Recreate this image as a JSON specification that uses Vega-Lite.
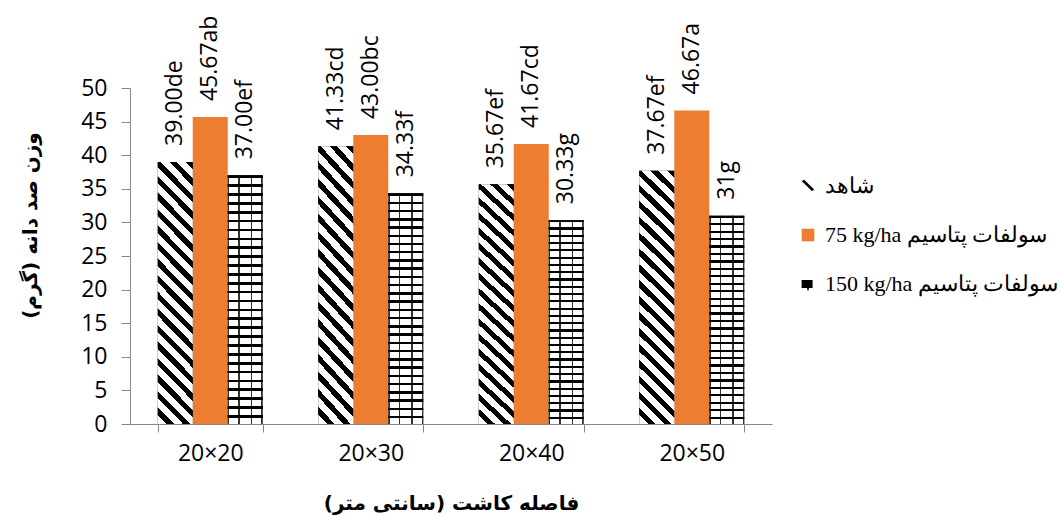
{
  "$schema": "https://vega.github.io/schema/vega-lite/v6.json",
  "width": 642,
  "height": 336,
  "autosize": {"type": "none"},
  "padding": {"left": 130, "top": 88, "right": 288, "bottom": 92},
  "background": "white",
  "config": {"view": {"stroke": null}, "font": "Open Sans"},
  "data": {
    "values": [
      {"spacing": "20×20", "series": "شاهد", "code": "a", "value": 39.0, "label": "39.00de"},
      {"spacing": "20×20", "series": "75 kg/ha سولفات پتاسیم", "code": "b", "value": 45.67, "label": "45.67ab"},
      {"spacing": "20×20", "series": "150 kg/ha سولفات پتاسیم", "code": "c", "value": 37.0, "label": "37.00ef"},
      {"spacing": "20×30", "series": "شاهد", "code": "a", "value": 41.33, "label": "41.33cd"},
      {"spacing": "20×30", "series": "75 kg/ha سولفات پتاسیم", "code": "b", "value": 43.0, "label": "43.00bc"},
      {"spacing": "20×30", "series": "150 kg/ha سولفات پتاسیم", "code": "c", "value": 34.33, "label": "34.33f"},
      {"spacing": "20×40", "series": "شاهد", "code": "a", "value": 35.67, "label": "35.67ef"},
      {"spacing": "20×40", "series": "75 kg/ha سولفات پتاسیم", "code": "b", "value": 41.67, "label": "41.67cd"},
      {"spacing": "20×40", "series": "150 kg/ha سولفات پتاسیم", "code": "c", "value": 30.33, "label": "30.33g"},
      {"spacing": "20×50", "series": "شاهد", "code": "a", "value": 37.67, "label": "37.67ef"},
      {"spacing": "20×50", "series": "75 kg/ha سولفات پتاسیم", "code": "b", "value": 46.67, "label": "46.67a"},
      {"spacing": "20×50", "series": "150 kg/ha سولفات پتاسیم", "code": "c", "value": 31.0, "label": "31g"}
    ]
  },
  "encoding": {
    "x": {
      "field": "spacing",
      "type": "nominal",
      "sort": ["20×20", "20×30", "20×40", "20×50"],
      "scale": {"paddingInner": 0.346, "paddingOuter": 0.173},
      "axis": {
        "title": "فاصله کاشت (سانتی متر)‏",
        "titleFont": "DejaVu Sans",
        "titleFontSize": 20,
        "titleFontWeight": "bold",
        "titleColor": "#000",
        "titleX": 321,
        "titleY": 79,
        "titleAlign": "center",
        "titleBaseline": "middle",
        "labelAngle": 0,
        "labelFont": "Open Sans",
        "labelFontSize": 23,
        "labelColor": "#000",
        "labelPadding": 10,
        "tickBand": "extent",
        "tickSize": 8,
        "tickColor": "#868686",
        "domainColor": "#868686",
        "grid": false
      }
    },
    "xOffset": {
      "field": "series",
      "type": "nominal",
      "scale": {"domain": ["شاهد", "75 kg/ha سولفات پتاسیم", "150 kg/ha سولفات پتاسیم"], "paddingInner": 0, "paddingOuter": 0}
    },
    "y": {
      "field": "value",
      "type": "quantitative",
      "scale": {"domain": [0, 50], "nice": false},
      "axis": {
        "title": "وزن صد دانه (گرم)‏",
        "titleFont": "DejaVu Sans",
        "titleFontSize": 20,
        "titleFontWeight": "bold",
        "titleColor": "#000",
        "titleAngle": 270,
        "titleX": -100,
        "titleY": 137,
        "titleAlign": "center",
        "titleBaseline": "middle",
        "values": [0, 5, 10, 15, 20, 25, 30, 35, 40, 45, 50],
        "labelFont": "Open Sans",
        "labelFontSize": 23,
        "labelColor": "#000",
        "labelPadding": 14,
        "tickSize": 9,
        "tickColor": "#868686",
        "domainColor": "#868686",
        "grid": false
      }
    }
  },
  "layer": [
    {
      "mark": {"type": "bar"},
      "encoding": {
        "color": {
          "field": "series",
          "type": "nominal",
          "scale": {"domain": ["شاهد", "75 kg/ha سولفات پتاسیم", "150 kg/ha سولفات پتاسیم"], "range": ["#000000", "#ED7D31", "#000000"]},
          "legend": {
            "title": null,
            "orient": "none",
            "legendX": 667,
            "legendY": 87,
            "symbolType": "square",
            "symbolSize": 160,
            "symbolStrokeWidth": 0,
            "labelFont": "Liberation Serif",
            "labelFontSize": 22,
            "labelColor": "#000",
            "labelOffset": 6,
            "labelLimit": 400,
            "rowPadding": 27,
            "encode": {
              "symbols": {
                "update": {
                  "shape": [
                    {"test": "datum.index === 0", "value": "M-1,-0.8L-0.6,-1L1,0.6L0.6,0.8Z"},
                    {"test": "datum.index === 2", "value": "M-1,-0.5H0.6V0.5H-1M0,0.5V1"},
                    {"value": "square"}
                  ],
                  "fill": [
                    {"test": "datum.index === 2", "value": "transparent"},
                    {"test": "datum.index === 0", "value": "#000"},
                    {"value": "#ED7D31"}
                  ],
                  "stroke": [
                    {"test": "datum.index === 2", "value": "#000"},
                    {"value": "transparent"}
                  ],
                  "strokeWidth": {"value": 1.6}
                }
              }
            }
          }
        }
      }
    },
    {
      "transform": [{"filter": "datum.code === 'a'"}],
      "mark": {
        "type": "bar",
        "fill": {
          "gradient": "linear",
          "x1": 0, "y1": 1, "x2": 0.1513, "y2": -0.1151,
          "stops": [
            {"offset": 0, "color": "#fff"}, {"offset": 0.0306, "color": "#fff"}, {"offset": 0.0306, "color": "#000"}, {"offset": 0.0556, "color": "#000"},
            {"offset": 0.0556, "color": "#fff"}, {"offset": 0.0861, "color": "#fff"}, {"offset": 0.0861, "color": "#000"}, {"offset": 0.1111, "color": "#000"},
            {"offset": 0.1111, "color": "#fff"}, {"offset": 0.1417, "color": "#fff"}, {"offset": 0.1417, "color": "#000"}, {"offset": 0.1667, "color": "#000"},
            {"offset": 0.1667, "color": "#fff"}, {"offset": 0.1972, "color": "#fff"}, {"offset": 0.1972, "color": "#000"}, {"offset": 0.2222, "color": "#000"},
            {"offset": 0.2222, "color": "#fff"}, {"offset": 0.2528, "color": "#fff"}, {"offset": 0.2528, "color": "#000"}, {"offset": 0.2778, "color": "#000"},
            {"offset": 0.2778, "color": "#fff"}, {"offset": 0.3083, "color": "#fff"}, {"offset": 0.3083, "color": "#000"}, {"offset": 0.3333, "color": "#000"},
            {"offset": 0.3333, "color": "#fff"}, {"offset": 0.3639, "color": "#fff"}, {"offset": 0.3639, "color": "#000"}, {"offset": 0.3889, "color": "#000"},
            {"offset": 0.3889, "color": "#fff"}, {"offset": 0.4194, "color": "#fff"}, {"offset": 0.4194, "color": "#000"}, {"offset": 0.4444, "color": "#000"},
            {"offset": 0.4444, "color": "#fff"}, {"offset": 0.475, "color": "#fff"}, {"offset": 0.475, "color": "#000"}, {"offset": 0.5, "color": "#000"},
            {"offset": 0.5, "color": "#fff"}, {"offset": 0.5306, "color": "#fff"}, {"offset": 0.5306, "color": "#000"}, {"offset": 0.5556, "color": "#000"},
            {"offset": 0.5556, "color": "#fff"}, {"offset": 0.5861, "color": "#fff"}, {"offset": 0.5861, "color": "#000"}, {"offset": 0.6111, "color": "#000"},
            {"offset": 0.6111, "color": "#fff"}, {"offset": 0.6417, "color": "#fff"}, {"offset": 0.6417, "color": "#000"}, {"offset": 0.6667, "color": "#000"},
            {"offset": 0.6667, "color": "#fff"}, {"offset": 0.6972, "color": "#fff"}, {"offset": 0.6972, "color": "#000"}, {"offset": 0.7222, "color": "#000"},
            {"offset": 0.7222, "color": "#fff"}, {"offset": 0.7528, "color": "#fff"}, {"offset": 0.7528, "color": "#000"}, {"offset": 0.7778, "color": "#000"},
            {"offset": 0.7778, "color": "#fff"}, {"offset": 0.8083, "color": "#fff"}, {"offset": 0.8083, "color": "#000"}, {"offset": 0.8333, "color": "#000"},
            {"offset": 0.8333, "color": "#fff"}, {"offset": 0.8639, "color": "#fff"}, {"offset": 0.8639, "color": "#000"}, {"offset": 0.8889, "color": "#000"},
            {"offset": 0.8889, "color": "#fff"}, {"offset": 0.9194, "color": "#fff"}, {"offset": 0.9194, "color": "#000"}, {"offset": 0.9444, "color": "#000"},
            {"offset": 0.9444, "color": "#fff"}, {"offset": 0.975, "color": "#fff"}, {"offset": 0.975, "color": "#000"}, {"offset": 1, "color": "#000"}
          ]
        }
      }
    },
    {
      "transform": [{"filter": "datum.code === 'c'"}],
      "mark": {
        "type": "bar",
        "fill": {
          "gradient": "linear",
          "x1": 0, "y1": 0, "x2": 0, "y2": 1,
          "stops": [
            {"offset": 0, "color": "#000"}, {"offset": 0.0107, "color": "#000"}, {"offset": 0.0107, "color": "#fff"}, {"offset": 0.0357, "color": "#fff"},
            {"offset": 0.0357, "color": "#000"}, {"offset": 0.0464, "color": "#000"}, {"offset": 0.0464, "color": "#fff"}, {"offset": 0.0714, "color": "#fff"},
            {"offset": 0.0714, "color": "#000"}, {"offset": 0.0821, "color": "#000"}, {"offset": 0.0821, "color": "#fff"}, {"offset": 0.1071, "color": "#fff"},
            {"offset": 0.1071, "color": "#000"}, {"offset": 0.1179, "color": "#000"}, {"offset": 0.1179, "color": "#fff"}, {"offset": 0.1429, "color": "#fff"},
            {"offset": 0.1429, "color": "#000"}, {"offset": 0.1536, "color": "#000"}, {"offset": 0.1536, "color": "#fff"}, {"offset": 0.1786, "color": "#fff"},
            {"offset": 0.1786, "color": "#000"}, {"offset": 0.1893, "color": "#000"}, {"offset": 0.1893, "color": "#fff"}, {"offset": 0.2143, "color": "#fff"},
            {"offset": 0.2143, "color": "#000"}, {"offset": 0.225, "color": "#000"}, {"offset": 0.225, "color": "#fff"}, {"offset": 0.25, "color": "#fff"},
            {"offset": 0.25, "color": "#000"}, {"offset": 0.2607, "color": "#000"}, {"offset": 0.2607, "color": "#fff"}, {"offset": 0.2857, "color": "#fff"},
            {"offset": 0.2857, "color": "#000"}, {"offset": 0.2964, "color": "#000"}, {"offset": 0.2964, "color": "#fff"}, {"offset": 0.3214, "color": "#fff"},
            {"offset": 0.3214, "color": "#000"}, {"offset": 0.3321, "color": "#000"}, {"offset": 0.3321, "color": "#fff"}, {"offset": 0.3571, "color": "#fff"},
            {"offset": 0.3571, "color": "#000"}, {"offset": 0.3679, "color": "#000"}, {"offset": 0.3679, "color": "#fff"}, {"offset": 0.3929, "color": "#fff"},
            {"offset": 0.3929, "color": "#000"}, {"offset": 0.4036, "color": "#000"}, {"offset": 0.4036, "color": "#fff"}, {"offset": 0.4286, "color": "#fff"},
            {"offset": 0.4286, "color": "#000"}, {"offset": 0.4393, "color": "#000"}, {"offset": 0.4393, "color": "#fff"}, {"offset": 0.4643, "color": "#fff"},
            {"offset": 0.4643, "color": "#000"}, {"offset": 0.475, "color": "#000"}, {"offset": 0.475, "color": "#fff"}, {"offset": 0.5, "color": "#fff"},
            {"offset": 0.5, "color": "#000"}, {"offset": 0.5107, "color": "#000"}, {"offset": 0.5107, "color": "#fff"}, {"offset": 0.5357, "color": "#fff"},
            {"offset": 0.5357, "color": "#000"}, {"offset": 0.5464, "color": "#000"}, {"offset": 0.5464, "color": "#fff"}, {"offset": 0.5714, "color": "#fff"},
            {"offset": 0.5714, "color": "#000"}, {"offset": 0.5821, "color": "#000"}, {"offset": 0.5821, "color": "#fff"}, {"offset": 0.6071, "color": "#fff"},
            {"offset": 0.6071, "color": "#000"}, {"offset": 0.6179, "color": "#000"}, {"offset": 0.6179, "color": "#fff"}, {"offset": 0.6429, "color": "#fff"},
            {"offset": 0.6429, "color": "#000"}, {"offset": 0.6536, "color": "#000"}, {"offset": 0.6536, "color": "#fff"}, {"offset": 0.6786, "color": "#fff"},
            {"offset": 0.6786, "color": "#000"}, {"offset": 0.6893, "color": "#000"}, {"offset": 0.6893, "color": "#fff"}, {"offset": 0.7143, "color": "#fff"},
            {"offset": 0.7143, "color": "#000"}, {"offset": 0.725, "color": "#000"}, {"offset": 0.725, "color": "#fff"}, {"offset": 0.75, "color": "#fff"},
            {"offset": 0.75, "color": "#000"}, {"offset": 0.7607, "color": "#000"}, {"offset": 0.7607, "color": "#fff"}, {"offset": 0.7857, "color": "#fff"},
            {"offset": 0.7857, "color": "#000"}, {"offset": 0.7964, "color": "#000"}, {"offset": 0.7964, "color": "#fff"}, {"offset": 0.8214, "color": "#fff"},
            {"offset": 0.8214, "color": "#000"}, {"offset": 0.8321, "color": "#000"}, {"offset": 0.8321, "color": "#fff"}, {"offset": 0.8571, "color": "#fff"},
            {"offset": 0.8571, "color": "#000"}, {"offset": 0.8679, "color": "#000"}, {"offset": 0.8679, "color": "#fff"}, {"offset": 0.8929, "color": "#fff"},
            {"offset": 0.8929, "color": "#000"}, {"offset": 0.9036, "color": "#000"}, {"offset": 0.9036, "color": "#fff"}, {"offset": 0.9286, "color": "#fff"},
            {"offset": 0.9286, "color": "#000"}, {"offset": 0.9393, "color": "#000"}, {"offset": 0.9393, "color": "#fff"}, {"offset": 0.9643, "color": "#fff"},
            {"offset": 0.9643, "color": "#000"}, {"offset": 0.975, "color": "#000"}, {"offset": 0.975, "color": "#fff"}, {"offset": 1, "color": "#fff"}
          ]
        }
      }
    },
    {
      "transform": [{"filter": "datum.code === 'c'"}],
      "mark": {
        "type": "bar",
        "fill": {
          "gradient": "linear",
          "x1": 0, "y1": 0, "x2": 1, "y2": 0,
          "stops": [
            {"offset": 0, "color": "rgba(0,0,0,0.8)"}, {"offset": 0.04, "color": "rgba(0,0,0,0.8)"}, {"offset": 0.04, "color": "rgba(0,0,0,0)"},
            {"offset": 0.3, "color": "rgba(0,0,0,0)"}, {"offset": 0.3, "color": "rgba(0,0,0,0.8)"}, {"offset": 0.34, "color": "rgba(0,0,0,0.8)"}, {"offset": 0.34, "color": "rgba(0,0,0,0)"},
            {"offset": 0.66, "color": "rgba(0,0,0,0)"}, {"offset": 0.66, "color": "rgba(0,0,0,0.8)"}, {"offset": 0.7, "color": "rgba(0,0,0,0.8)"}, {"offset": 0.7, "color": "rgba(0,0,0,0)"},
            {"offset": 0.96, "color": "rgba(0,0,0,0)"}, {"offset": 0.96, "color": "rgba(0,0,0,0.8)"}, {"offset": 1, "color": "rgba(0,0,0,0.8)"}
          ]
        }
      }
    },
    {
      "mark": {"type": "text", "angle": 270, "align": "left", "baseline": "middle", "dx": 16, "font": "Open Sans", "fontSize": 23, "color": "#000"},
      "encoding": {"text": {"field": "label"}}
    }
  ]
}
